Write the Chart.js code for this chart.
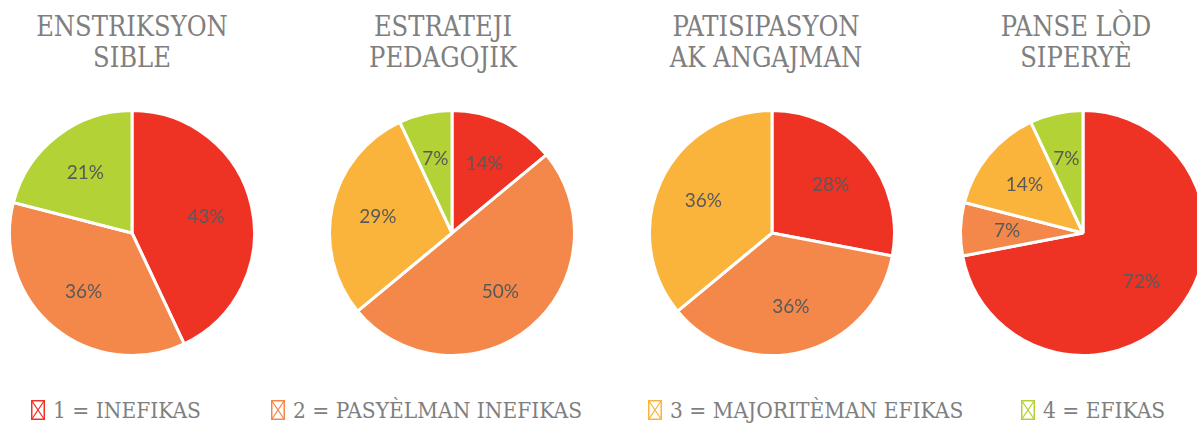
<!DOCTYPE html>
<html>
<head>
<meta charset="utf-8">
<script src="https://cdn.jsdelivr.net/npm/chart.js@4/dist/chart.umd.min.js"></script>
<style>
  html, body { margin: 0; padding: 0; background: #fff; }
  body { width: 1197px; height: 423px; overflow: hidden; position: relative; }
  .title { position: absolute; top: 11px; width: 300px; text-align: center;
           font-family: 'DejaVu Serif Condensed', 'DejaVu Serif'; font-stretch: condensed;
           font-size: 27px; line-height: 31px; color: #7f7f7f; white-space: nowrap; }
  .pie { position: absolute; top: 109px; width: 248px; height: 248px; }
  #legend { position: absolute; top: 398px; left: 0; width: 1197px; height: 25px; }
  .item { position: absolute; top: 0; display: flex; align-items: flex-start; white-space: nowrap;
          font-family: 'DejaVu Serif Condensed', 'DejaVu Serif'; font-stretch: condensed; font-size: 22.5px; line-height: 24px; color: #7f7f7f; }
  .item svg { flex: none; display: block; margin-top: 2px; margin-right: 8px; }
</style>
</head>
<body>
<script>
// ---- data ----
const categories = ["1 = INEFIKAS", "2 = PASYÈLMAN INEFIKAS", "3 = MAJORITÈMAN EFIKAS", "4 = EFIKAS"];
const chartTitles = [["ENSTRIKSYON", "SIBLE"], ["ESTRATEJI", "PEDAGOJIK"], ["PATISIPASYON", "AK ANGAJMAN"], ["PANSE LÒD", "SIPERYÈ"]];
const enstriksyonSible = [43, 36, 0, 21];
const estratejiPedagojik = [14, 50, 29, 7];
const patisipasyonAngajman = [28, 36, 36, 0];
const panseLodSiperye = [72, 7, 14, 7];
const seriesValues = [enstriksyonSible, estratejiPedagojik, patisipasyonAngajman, panseLodSiperye];

// ---- layout / style ----
const colors = ["#EE3325", "#F4874A", "#FAB43B", "#B2D235"];
const pieCenters = [132, 452, 772, 1083];
const titleCenters = [132, 443, 766, 1076];
const legendLeft = [31, 271, 648, 1021];

const pctLabels = {
  id: 'pctLabels',
  afterDatasetsDraw(chart) {
    const ctx = chart.ctx;
    const meta = chart.getDatasetMeta(0);
    const data = chart.data.datasets[0].data;
    ctx.save();
    ctx.font = '19px Lato, "Open Sans", sans-serif';
    ctx.fillStyle = '#595959';
    ctx.textAlign = 'center';
    ctx.textBaseline = 'middle';
    meta.data.forEach((arc, i) => {
      const v = data[i];
      if (!v) return;
      const p = arc.getProps(['x', 'y', 'startAngle', 'endAngle', 'outerRadius'], true);
      const mid = (p.startAngle + p.endAngle) / 2;
      const r = p.outerRadius * 0.62;
      ctx.fillText(v + '%', p.x + Math.cos(mid) * r, p.y + Math.sin(mid) * r);
    });
    ctx.restore();
  }
};

seriesValues.forEach((vals, k) => {
  const t = document.createElement('div');
  t.className = 'title';
  t.style.left = (titleCenters[k] - 150) + 'px';
  t.innerHTML = chartTitles[k].join('<br>');
  document.body.appendChild(t);

  const wrap = document.createElement('div');
  wrap.className = 'pie';
  wrap.style.left = (pieCenters[k] - 124) + 'px';
  const cv = document.createElement('canvas');
  cv.width = 248; cv.height = 248;
  wrap.appendChild(cv);
  document.body.appendChild(wrap);

  new Chart(cv, {
    type: 'pie',
    data: {
      labels: categories,
      datasets: [{ data: vals, backgroundColor: colors, borderColor: '#ffffff', borderWidth: 3 }]
    },
    options: {
      responsive: false,
      animation: false,
      devicePixelRatio: 1,
      layout: { padding: 0 },
      plugins: { legend: { display: false }, tooltip: { enabled: false } }
    },
    plugins: [pctLabels]
  });
});

const legend = document.createElement('div');
legend.id = 'legend';
categories.forEach((c, i) => {
  const it = document.createElement('div');
  it.className = 'item';
  it.style.left = legendLeft[i] + 'px';
  const col = colors[i];
  it.innerHTML = '<svg width="14" height="20" viewBox="0 0 14 20"><rect x="0.75" y="0.75" width="12.5" height="18.5" fill="none" stroke="' + col + '" stroke-width="1.5"/><path d="M0.75 0.75 L13.25 19.25 M13.25 0.75 L0.75 19.25" stroke="' + col + '" stroke-width="1.3"/></svg><span>' + c + '</span>';
  legend.appendChild(it);
});
document.body.appendChild(legend);
</script>
</body>
</html>
